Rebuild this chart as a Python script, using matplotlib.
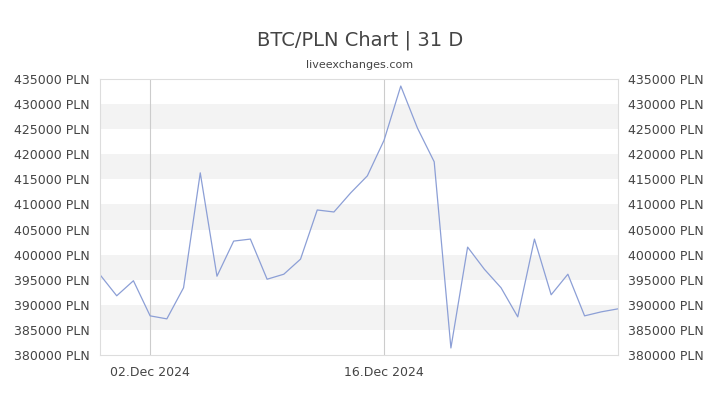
import numpy as np
import matplotlib.pyplot as plt
import matplotlib.dates as mdates
import datetime

# data
start = datetime.date(2024, 11, 29)
values = [396000, 391800, 394800, 387800, 387200, 393400, 416300, 395700,
          402700, 403100, 395100, 396100, 399100, 408900, 408500, 412300,
          415700, 422800, 433600, 425200, 418500, 381400, 401500, 397100,
          393400, 387600, 403100, 392000, 396100, 387800, 388600, 389200]
dates = [start + datetime.timedelta(days=i) for i in range(len(values))]
yticks = list(range(380000, 435001, 5000))
ytick_labels = [f"{v} PLN" for v in yticks]
xtick_dates = [datetime.date(2024, 12, 2), datetime.date(2024, 12, 16)]
xtick_labels = ["02.Dec 2024", "16.Dec 2024"]

text_color = '#444444'
fig = plt.figure(figsize=(7.2, 4.05), dpi=100)
ax = fig.add_axes([100/720, 1-355/405, 518/720, 276/405])

# alternating bands
for lo in range(385000, 435000, 10000):
    ax.axhspan(lo, lo + 5000, color='#f3f3f3', lw=0, zorder=0)
for d in xtick_dates:
    ax.axvline(d, color='#cccccc', lw=0.8, zorder=1)

ax.plot(dates, values, color='#8c9fd6', lw=0.9, zorder=2)

ax.set_xlim(dates[0], dates[-1])
ax.set_ylim(380000, 435000)
ax.set_yticks(yticks)
ax.set_yticklabels(ytick_labels)
ax.set_xticks(xtick_dates)
ax.set_xticklabels(xtick_labels)
ax.tick_params(axis='y', which='both', left=False, right=False, labelright=True,
               colors=text_color, labelsize=9, pad=4)
ax.tick_params(axis='x', colors=text_color, labelsize=9, length=0, pad=8)
for s in ax.spines.values():
    s.set_color('#dddddd')
    s.set_linewidth(0.8)

fig.text(0.5, 1-40/405, 'BTC/PLN Chart | 31 D', ha='center', va='center',
         fontsize=14, color=text_color)
fig.text(0.5, 1-65/405, 'liveexchanges.com', ha='center', va='center',
         fontsize=8, color=text_color)

fig.savefig('out.png', dpi=100, facecolor='white')
